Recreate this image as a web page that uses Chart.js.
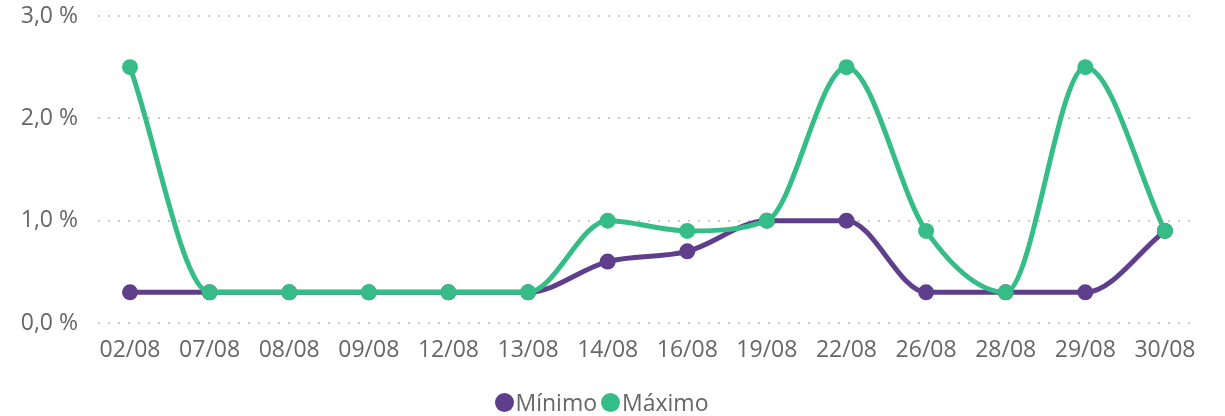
<!DOCTYPE html>
<html>
<head>
<meta charset="utf-8">
<script src="https://cdn.jsdelivr.net/npm/chart.js@4"></script>
<style>
  html, body { margin: 0; padding: 0; background: #fff; }
  #wrap { position: relative; width: 1225px; height: 416px; }
  #legend { position: absolute; left: 0; right: 0; top: 389px; display: flex; justify-content: center;
    font-family: "Segoe UI", "Open Sans", sans-serif; font-size: 23px; color: #666; line-height: 26px; padding-right: 22px; }
  .item { display: flex; align-items: center; margin: 0 2px; }
  .dot { width: 19px; height: 19px; border-radius: 50%; margin-right: 2px; }
</style>
</head>
<body>
<div id="wrap">
  <canvas id="c" width="1225" height="416"></canvas>
  <div id="legend"></div>
</div>
<script>
const categories = ["02/08","07/08","08/08","09/08","12/08","13/08","14/08","16/08","19/08","22/08","26/08","28/08","29/08","30/08"];
const minimo = [0.3,0.3,0.3,0.3,0.3,0.3,0.6,0.7,1.0,1.0,0.3,0.3,0.3,0.9];
const maximo = [2.5,0.3,0.3,0.3,0.3,0.3,1.0,0.9,1.0,2.5,0.9,0.3,2.5,0.9];
const seriesNames = ["Mínimo","Máximo"];
const seriesColors = ["#5f3f8c","#36bd87"];
const yTicks = [0,1,2,3];

const toPts = arr => arr.map((v,i) => ({x:i, y:v}));
const FONT = '"Segoe UI", "Open Sans", sans-serif';

new Chart(document.getElementById('c'), {
  type: 'line',
  data: {
    datasets: [
      { label: seriesNames[0], data: toPts(minimo), borderColor: seriesColors[0], backgroundColor: seriesColors[0],
        borderWidth: 5, pointRadius: 8, pointHoverRadius: 8, pointBorderWidth: 0, cubicInterpolationMode: 'monotone', order: 1 },
      { label: seriesNames[1], data: toPts(maximo), borderColor: seriesColors[1], backgroundColor: seriesColors[1],
        borderWidth: 5, pointRadius: 8, pointHoverRadius: 8, pointBorderWidth: 0, cubicInterpolationMode: 'monotone', order: 0 }
    ]
  },
  options: {
    responsive: false,
    animation: false,
    layout: { padding: { left: 0, right: 33, top: 16, bottom: 40 } },
    plugins: { legend: { display: false }, tooltip: { enabled: false } },
    scales: {
      x: {
        type: 'linear', min: -0.402, max: 13.34,
        grid: { display: false, drawTicks: false },
        border: { display: false },
        afterFit: s => { s.height = 53; s.paddingTop = 0; s.paddingBottom = 0; },
        ticks: {
          stepSize: 1, includeBounds: false, autoSkip: false, maxRotation: 0, padding: 14,
          color: '#666', font: { family: FONT, size: 23 },
          callback: v => Number.isInteger(v) ? categories[v] : ''
        }
      },
      y: {
        min: yTicks[0], max: yTicks[yTicks.length-1],
        afterFit: s => { s.width = 98; s.paddingTop = 0; s.paddingBottom = 0; },
        border: { display: false, dash: [2, 8] },
        grid: { color: '#cccccc', lineWidth: 2, drawTicks: false },
        ticks: {
          stepSize: 1, padding: 20, color: '#666', font: { family: FONT, size: 23 },
          callback: v => v.toFixed(1).replace('.', ',') + ' %'
        }
      }
    }
  }
});

const lg = document.getElementById('legend');
seriesNames.forEach((n, i) => {
  const it = document.createElement('div'); it.className = 'item';
  const d = document.createElement('span'); d.className = 'dot'; d.style.background = seriesColors[i];
  const t = document.createElement('span'); t.textContent = n;
  it.appendChild(d); it.appendChild(t); lg.appendChild(it);
});
</script>
</body>
</html>
